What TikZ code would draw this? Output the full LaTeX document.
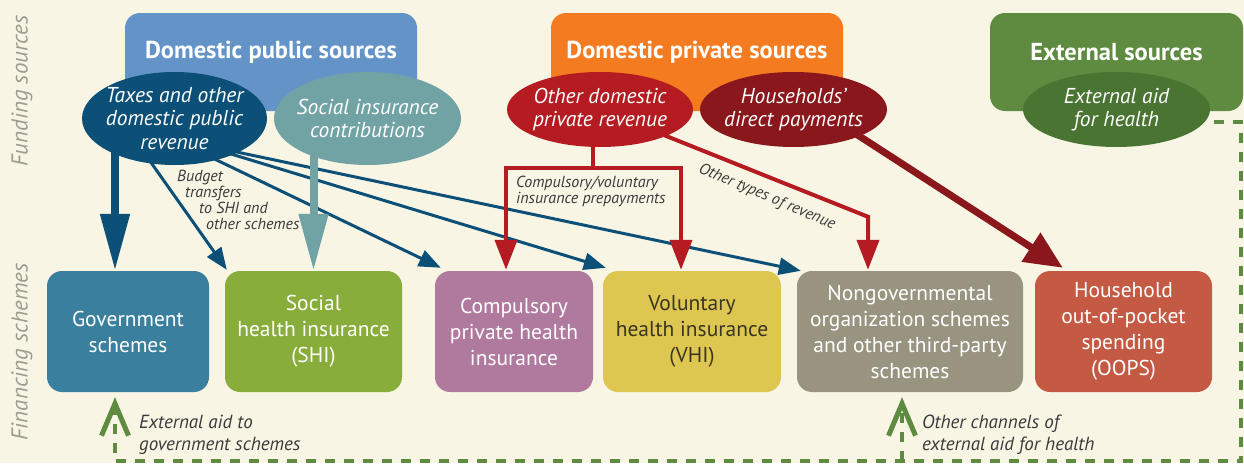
\documentclass[tikz,border=0pt]{standalone}
\usepackage{fontspec}
\setmainfont{PT Sans}
\usetikzlibrary{arrows.meta,calc,shapes.geometric}
\pgfdeclarelayer{back}
\pgfsetlayers{back,main}
\definecolor{bgc}{HTML}{F8F5E5}
\definecolor{pubc}{HTML}{6393C7}
\definecolor{taxc}{HTML}{0D5077}
\definecolor{socc}{HTML}{71A3A5}
\definecolor{privc}{HTML}{F47B20}
\definecolor{othc}{HTML}{B41C22}
\definecolor{hhc}{HTML}{8A171C}
\definecolor{extc}{HTML}{5E8B3F}
\definecolor{aidc}{HTML}{4A7432}
\definecolor{govc}{HTML}{3B7F9E}
\definecolor{shic}{HTML}{88AD3B}
\definecolor{compc}{HTML}{B07A9F}
\definecolor{volc}{HTML}{DEC751}
\definecolor{ngoc}{HTML}{98947F}
\definecolor{oopc}{HTML}{C55A44}
\definecolor{sidec}{HTML}{9C9C90}
\definecolor{labc}{HTML}{3A3A3A}
\definecolor{voltc}{HTML}{3A3520}
\begin{document}
\begin{tikzpicture}[x=1pt,y=-1pt,
  srcbox/.style={rectangle, rounded corners=15pt, minimum width=#1, minimum height=98pt, inner sep=0pt},
  hdr/.style={text=white, font=\fontsize{24.5}{28}\selectfont\bfseries},
  ell/.style={ellipse, inner sep=0pt},
  eltext/.style={text=white, align=center, font=\fontsize{21.5}{23.5}\selectfont\itshape},
  schbox/.style={rectangle, rounded corners=15pt, minimum height=121pt, inner sep=2pt, text=white, align=center, font=\fontsize{21.5}{26}\selectfont},
  sidelab/.style={text=sidec, font=\fontsize{23}{26}\selectfont\itshape},
  smlab/.style={text=labc, align=left, font=\fontsize{16}{16}\selectfont\itshape, inner sep=0pt},
  extlab/.style={text=labc, align=left, font=\fontsize{19}{22}\selectfont\itshape, inner sep=0pt},
  thinblue/.style={draw=taxc, line width=3pt, -{Triangle[length=22pt,width=17pt]}},
  bigblue/.style={draw=taxc, line width=8pt, -{Triangle[length=57pt,width=28pt]}},
  bigteal/.style={draw=socc, line width=8pt, -{Triangle[length=57pt,width=28pt]}},
  redarrow/.style={draw=othc, line width=4pt, line join=miter, -{Triangle[length=30pt,width=22pt]}},
  redline/.style={draw=othc, line width=4pt},
  darkred/.style={draw=hhc, line width=7pt, -{Triangle[length=38pt,width=33pt]}},
  gdash/.style={draw=extc, line width=3.5pt, dash pattern=on 10pt off 9pt},
  garrow/.style={gdash, -{Straight Barb[length=32pt,width=27pt,line width=5pt]}}
]
\begin{pgfonlayer}{back}
\fill[bgc] (0,0) rectangle (1244,463);
\end{pgfonlayer}
\useasboundingbox (0,0) rectangle (1244,463);

% side labels
\node[sidelab, rotate=90] (fund) at (22,91) {Funding sources};
\node[sidelab, rotate=90] (fin) at (22,352) {Financing schemes};

% source boxes
\node[srcbox=292pt, fill=pubc] (pub) at (271,62) {};
\node[hdr] (pubt) at (271,52) {Domestic public sources};
\node[srcbox=292pt, fill=privc] (priv) at (697,62) {};
\node[hdr] (privt) at (697,52) {Domestic private sources};
\node[srcbox=253pt, fill=extc] (ext) at (1116.5,62) {};
\node[hdr] (extt) at (1116.5,52) {External sources};

% ellipses
\node[ell, fill=taxc, minimum width=185pt, minimum height=93pt,
  label={[eltext]center:{Taxes and other\\domestic public\\revenue}}] (taxes) at (174.5,118.5) {};
\node[ell, fill=socc, minimum width=187pt, minimum height=93pt,
  label={[eltext]center:{Social insurance\\contributions}}] (social) at (367.5,118.5) {};
\node[ell, fill=othc, minimum width=186pt, minimum height=75pt,
  label={[eltext]center:{Other domestic\\private revenue}}] (other) at (600,109.5) {};
\node[ell, fill=hhc, minimum width=187pt, minimum height=75pt,
  label={[eltext]center:{Households'\\direct payments}}] (hh) at (793.5,109.5) {};
\node[ell, fill=aidc, minimum width=187pt, minimum height=75pt,
  label={[eltext]center:{External aid\\for health}}] (aid) at (1116.5,109.5) {};

% financing schemes
\node[schbox, fill=govc, minimum width=162pt] (gov) at (128,331.5) {Government\\schemes};
\node[schbox, fill=shic, minimum width=177pt] (shi) at (313.5,331.5) {Social\\health insurance\\(SHI)};
\node[schbox, fill=compc, minimum width=158pt] (comp) at (514,331.5) {Compulsory\\private health\\insurance};
\node[schbox, fill=volc, minimum width=178pt, text=voltc] (vol) at (692,331.5) {Voluntary\\health insurance\\(VHI)};
\node[schbox, fill=ngoc, minimum width=226pt] (ngo) at (910,331.5) {Nongovernmental\\organization schemes\\and other third-party\\schemes};
\node[schbox, fill=oopc, minimum width=177pt] (oops) at (1123.5,331.5) {Household\\out-of-pocket\\spending\\(OOPS)};

% connectors (behind)
\begin{pgfonlayer}{back}
\draw[bigblue] ($(taxes.center)+(-59.5,0)$) -- ($(gov.north)+(-13,0)$);
\draw[thinblue] ($(taxes.center)+(-46.5,11.5)$) -- ($(shi.north west)+(2,-1)$);
\draw[thinblue] ($(taxes.center)+(0.5,21.5)$) -- ($(comp.north west)+(6,-3)$);
\draw[thinblue] ($(taxes.center)+(0.5,18.5)$) -- ($(vol.north west)+(3,-3)$);
\draw[thinblue] ($(taxes.center)+(0.5,20.5)$) -- ($(ngo.north west)+(4,0)$);
\draw[bigteal] (social.center -| shi.north) -- (shi.north);
\coordinate (split) at ($(other.center)+(-7,58.5)$);
\draw[redline] (other.center -| split) -- (split);
\draw[redarrow] (split) -| ($(comp.north)+(-8,-1)$);
\draw[redarrow] (split) -| ($(vol.north)+(-11,-1)$);
\coordinate (bend) at ($(ngo.north)+(-42,-54)$);
\draw[redarrow] (other.center) -- (bend) -- ($(ngo.north)+(-42,-1)$);
\draw[darkred] ($(hh.center)+(0,-16)$) -- ($(oops.north west)+(28,-3)$);
\end{pgfonlayer}

% green dashed
\coordinate (aidout) at ($(aid.center)+(97,12.5)$);
\coordinate (corner) at (1241,461);
\coordinate (ngofoot) at ($(ngo.south)+(-8,0)$);
\draw[garrow] (aidout) -| (corner) -| ($(gov.south)+(-13,5)$);
\draw[garrow] (ngofoot |- corner) -- ($(ngo.south)+(-8,5)$);

% labels
\node[smlab, anchor=base west] (bud) at (177,229) {Budget\\\hspace*{8pt}transfers\\\hspace*{22pt}to SHI and\\\hspace*{29pt}other schemes};
\node[smlab, anchor=base west] (prep) at (516,203) {Compulsory/voluntary\\insurance prepayments};
\node[smlab, rotate=-23] (otr) at (767,197) {Other types of revenue};
\node[extlab, anchor=base west] (ea) at (139,450) {External aid to\\government schemes};
\node[extlab, anchor=base west] (oc) at (922,450) {Other channels of\\external aid for health};
\end{tikzpicture}
\end{document}
